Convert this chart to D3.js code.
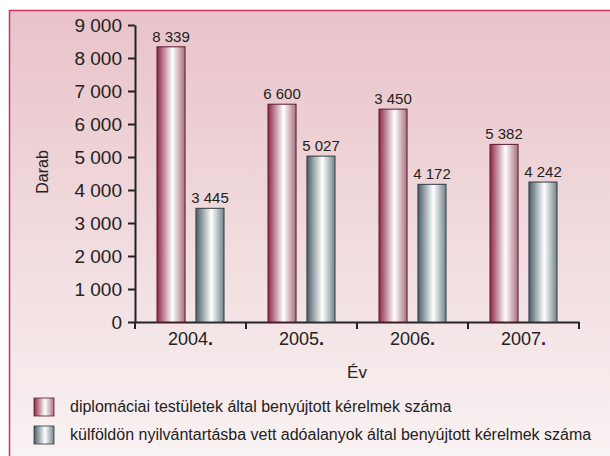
<!DOCTYPE html>
<html>
<head>
<meta charset="utf-8">
<script src="https://cdn.jsdelivr.net/npm/d3@7"></script>
<style>
  body { margin: 0; background: #fff; }
  svg { display: block; font-family: "Liberation Sans", Arial, sans-serif; }
</style>
</head>
<body>
<svg id="chart" width="610" height="456"></svg>
<script>
// chart data
const years = ['2004', '2005', '2006', '2007'];
const diplomatic = [8339, 6600, 6450, 5382];
const diplomaticLabels = ['8 339', '6 600', '3 450', '5 382'];
const foreign = [3445, 5027, 4172, 4242];
const foreignLabels = ['3 445', '5 027', '4 172', '4 242'];
const yTicks = [0, 1000, 2000, 3000, 4000, 5000, 6000, 7000, 8000, 9000];
const seriesNames = [
  'diplomáciai testületek által benyújtott kérelmek száma',
  'külföldön nyilvántartásba vett adóalanyok által benyújtott kérelmek száma'
];

const svg = d3.select('#chart');
const defs = svg.append('defs');

// background gradient
let bg = defs.append('linearGradient').attr('id', 'bg')
  .attr('x1', 0).attr('y1', 0).attr('x2', 0).attr('y2', 1);
bg.append('stop').attr('offset', '0%').attr('stop-color', '#e8c3c9');
bg.append('stop').attr('offset', '100%').attr('stop-color', '#f9f2f2');

function barGrad(id, dark, light) {
  let g = defs.append('linearGradient').attr('id', id)
    .attr('x1', 0).attr('y1', 0).attr('x2', 1).attr('y2', 0);
  g.append('stop').attr('offset', '0%').attr('stop-color', dark);
  g.append('stop').attr('offset', '55%').attr('stop-color', '#ffffff');
  g.append('stop').attr('offset', '100%').attr('stop-color', light);
}
barGrad('gRed', '#8e2845', '#a6707f');
barGrad('gBlue', '#4a5f67', '#71848b');

svg.append('rect').attr('x', 9).attr('y', 10).attr('width', 601).attr('height', 446)
  .attr('fill', 'url(#bg)');
svg.append('path').attr('d', 'M9.5,456V10.5H610')
  .attr('fill', 'none').attr('stroke', '#c8336a').attr('stroke-width', 1.5);

const x0 = 135, x1 = 579;
const y = d3.scaleLinear().domain([0, 9000]).range([322, 25]);
const x = d3.scaleBand().domain(years).range([x0, x1]);
const inner = d3.scaleBand().domain(['a', 'b']).range([22, 111 - 22]).paddingInner(0.28);

const fmt = d => d === 0 ? '0' : d3.format(',')(d).replace(',', ' ');

// y axis
const yAxis = svg.append('g').attr('transform', `translate(${x0},0)`)
  .call(d3.axisLeft(y).tickValues(yTicks).tickFormat(fmt).tickSize(7).tickSizeOuter(0));
yAxis.select('.domain').attr('stroke', '#222').attr('stroke-width', 2);
yAxis.selectAll('.tick line').attr('stroke', '#222').attr('stroke-width', 2);
yAxis.selectAll('.tick text').attr('font-size', 19).attr('fill', '#222')
  .attr('x', -13).attr('font-family', '"Liberation Sans", Arial, sans-serif');

// x axis
const xAxis = svg.append('g').attr('transform', `translate(0,${y(0)})`)
  .call(d3.axisBottom(x).tickValues([]).tickSizeOuter(0));
xAxis.select('.domain').attr('stroke', '#222').attr('stroke-width', 2);
svg.selectAll('line.sep')
  .data(d3.range(years.length + 1))
  .join('line')
  .classed('sep', true)
  .attr('x1', i => x0 + i * x.bandwidth()).attr('x2', i => x0 + i * x.bandwidth())
  .attr('y1', y(0)).attr('y2', y(0) + 7)
  .attr('stroke', '#222').attr('stroke-width', 2);

let yearText = svg.selectAll('text.year')
  .data(years)
  .join('text')
  .classed('year', true)
  .attr('x', d => x(d) + x.bandwidth() / 2)
  .attr('y', y(0) + 23)
  .attr('text-anchor', 'middle')
  .attr('font-size', 18)
  .attr('fill', '#222');
yearText.append('tspan').text(d => d);
yearText.append('tspan').text('.').attr('font-weight', 'bold');

// bars
const series = [
  { key: 'a', values: diplomatic, labels: diplomaticLabels, fill: 'url(#gRed)', stroke: '#5a1a2c' },
  { key: 'b', values: foreign, labels: foreignLabels, fill: 'url(#gBlue)', stroke: '#2e3a3e' }
];

series.forEach(s => {
  let g = svg.append('g');
  g.selectAll('rect')
    .data(s.values)
    .join('rect')
    .attr('x', (d, i) => x(years[i]) + inner(s.key))
    .attr('y', d => y(d))
    .attr('width', inner.bandwidth())
    .attr('height', d => y(0) - y(d))
    .attr('fill', s.fill)
    .attr('stroke', s.stroke)
    .attr('stroke-width', 1);
  g.selectAll('text')
    .data(s.values)
    .join('text')
    .attr('x', (d, i) => x(years[i]) + inner(s.key) + inner.bandwidth() / 2)
    .attr('y', d => y(d) - 5)
    .attr('text-anchor', 'middle')
    .attr('font-size', 15)
    .attr('fill', '#222')
    .text((d, i) => s.labels[i]);
});

// axis titles
svg.append('text')
  .attr('transform', 'translate(48,172) rotate(-90)')
  .attr('text-anchor', 'middle')
  .attr('font-size', 16)
  .attr('fill', '#222')
  .text('Darab');
svg.append('text')
  .attr('x', 357).attr('y', 378)
  .attr('text-anchor', 'middle')
  .attr('font-size', 17)
  .attr('fill', '#222')
  .text('Év');

// legend
const legend = svg.selectAll('g.legend')
  .data(series)
  .join('g')
  .classed('legend', true)
  .attr('transform', (d, i) => `translate(34,${398 + i * 28})`);
legend.append('rect')
  .attr('width', 20).attr('height', 18)
  .attr('fill', d => d.fill)
  .attr('stroke', d => d.stroke).attr('stroke-width', 0.8);
legend.append('text')
  .attr('x', 36).attr('y', 14)
  .attr('font-size', 16)
  .attr('fill', '#222')
  .text((d, i) => seriesNames[i]);
</script>
</body>
</html>
